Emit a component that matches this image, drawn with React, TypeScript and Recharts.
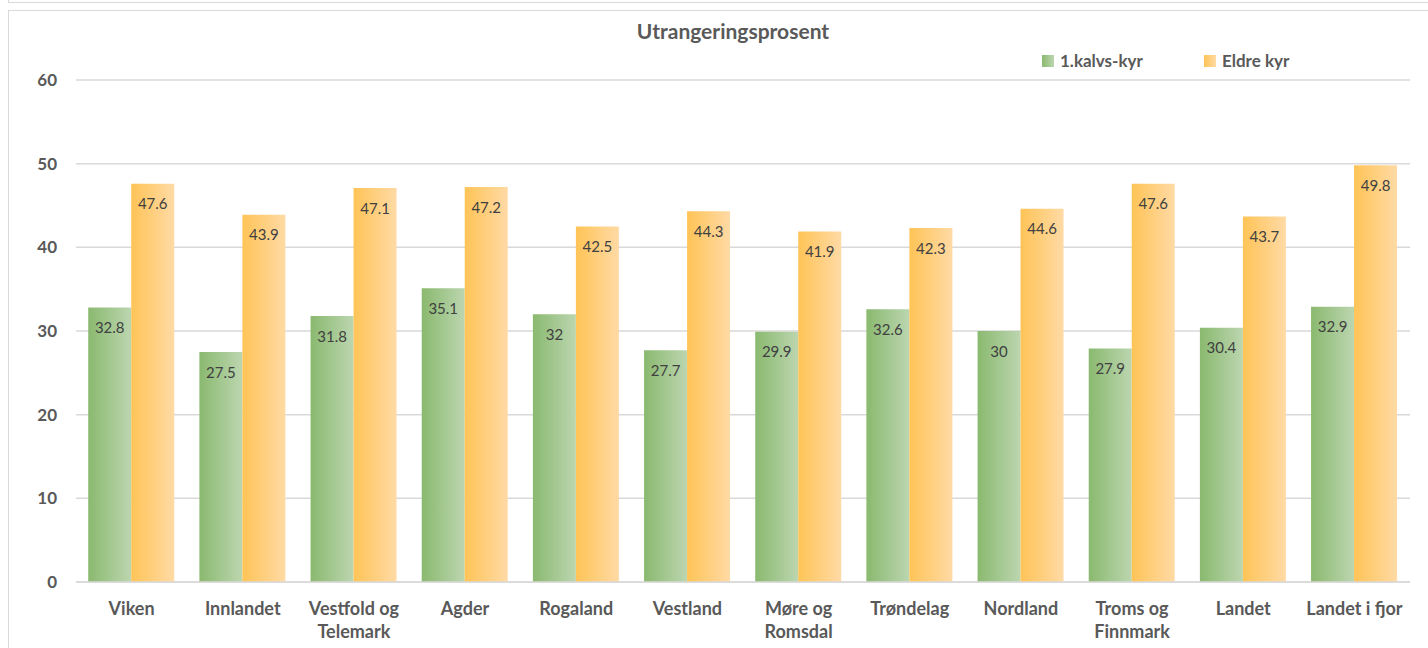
import React from 'react';
import {
  BarChart,
  Bar,
  XAxis,
  YAxis,
  CartesianGrid,
  Legend,
  LabelList,
  Text,
} from 'recharts';

const regions = [
  'Viken',
  'Innlandet',
  'Vestfold og Telemark',
  'Agder',
  'Rogaland',
  'Vestland',
  'Møre og Romsdal',
  'Trøndelag',
  'Nordland',
  'Troms og Finnmark',
  'Landet',
  'Landet i fjor',
];
const firstCalf = [32.8, 27.5, 31.8, 35.1, 32, 27.7, 29.9, 32.6, 30, 27.9, 30.4, 32.9];
const olderCows = [47.6, 43.9, 47.1, 47.2, 42.5, 44.3, 41.9, 42.3, 44.6, 47.6, 43.7, 49.8];
const yTicks = [0, 10, 20, 30, 40, 50, 60];

const data = regions.map((name, i) => ({
  name,
  first: firstCalf[i],
  older: olderCows[i],
}));

const FONT = 'Lato, "Open Sans", sans-serif';
const GREY = '#595959';

const CategoryTick = (props: any) => {
  const { x, y, payload } = props;
  return (
    <Text
      x={x}
      y={y + 20}
      width={110}
      textAnchor="middle"
      verticalAnchor="start"
      lineHeight={23}
      style={{ fontFamily: FONT, fontSize: 18, fontWeight: 700, fill: GREY }}
    >
      {payload.value}
    </Text>
  );
};

const swatch: Record<string, string> = {
  first: 'linear-gradient(to right, #8ab96f, #bcd6b0)',
  older: 'linear-gradient(to right, #ffc457, #ffdaa5)',
};

const LegendContent = (props: any) => {
  const { payload } = props;
  return (
    <div style={{ display: 'flex', fontFamily: FONT, fontSize: 17, fontWeight: 700, color: GREY }}>
      {payload.map((p: any) => (
        <div key={p.dataKey} style={{ display: 'flex', alignItems: 'center', width: 162 }}>
          <span style={{ width: 12, height: 12, background: swatch[p.dataKey], marginRight: 6 }} />
          <span>{p.value}</span>
        </div>
      ))}
    </div>
  );
};

export default function App() {
  return (
    <div
      style={{
        position: 'absolute',
        left: 0,
        top: 0,
        width: 1428,
        height: 648,
        overflow: 'hidden',
        background: '#fff',
        fontFamily: FONT,
      }}
    >
      <div style={{ position: 'absolute', left: 8, top: -20, width: 1440, height: 21, border: '1px solid #d9d9d9' }} />
      <div style={{ position: 'absolute', left: 8, top: 10, width: 1440, height: 700, border: '1px solid #d9d9d9' }} />
      <div
        style={{
          position: 'absolute',
          left: 533,
          top: 18,
          width: 400,
          textAlign: 'center',
          fontSize: 21,
          fontWeight: 700,
          color: GREY,
        }}
      >
        Utrangeringsprosent
      </div>
      <div style={{ position: 'absolute', left: 0, top: 0 }}>
        <BarChart
          width={1428}
          height={648}
          data={data}
          margin={{ top: 80, right: 18, bottom: 0, left: 26 }}
          barCategoryGap="11%"
          barGap={0}
        >
          <defs>
            <linearGradient id="gGreen" x1="0" y1="0" x2="1" y2="0">
              <stop offset="0%" stopColor="#8ab96f" />
              <stop offset="100%" stopColor="#bcd6b0" />
            </linearGradient>
            <linearGradient id="gYellow" x1="0" y1="0" x2="1" y2="0">
              <stop offset="0%" stopColor="#ffc457" />
              <stop offset="100%" stopColor="#ffdaa5" />
            </linearGradient>
          </defs>
          <CartesianGrid stroke="#d9d9d9" strokeWidth={1.5} vertical={false} />
          <XAxis
            dataKey="name"
            height={66}
            interval={0}
            tickLine={false}
            axisLine={{ stroke: '#d9d9d9', strokeWidth: 1.5 }}
            tickSize={0}
            tickMargin={0}
            tick={<CategoryTick />}
          />
          <YAxis
            width={50}
            domain={[0, 60]}
            ticks={yTicks}
            axisLine={false}
            tickLine={false}
            tickSize={0}
            tickMargin={19}
            tick={{ fontFamily: FONT, fontSize: 17, fontWeight: 700, fill: GREY }}
          />
          <Legend
            verticalAlign="middle"
            align="center"
            content={<LegendContent />}
            wrapperStyle={{ position: 'absolute', left: 1042, top: 50, width: 340 }}
          />
          <Bar dataKey="first" name="1.kalvs-kyr" fill="url(#gGreen)" isAnimationActive={false}>
            <LabelList
              dataKey="first"
              position="insideTop"
              offset={15}
              style={{ fontFamily: FONT, fontSize: 15, fill: '#404040' }}
            />
          </Bar>
          <Bar dataKey="older" name="Eldre kyr" fill="url(#gYellow)" isAnimationActive={false}>
            <LabelList
              dataKey="older"
              position="insideTop"
              offset={15}
              style={{ fontFamily: FONT, fontSize: 15, fill: '#404040' }}
            />
          </Bar>
        </BarChart>
      </div>
    </div>
  );
}
